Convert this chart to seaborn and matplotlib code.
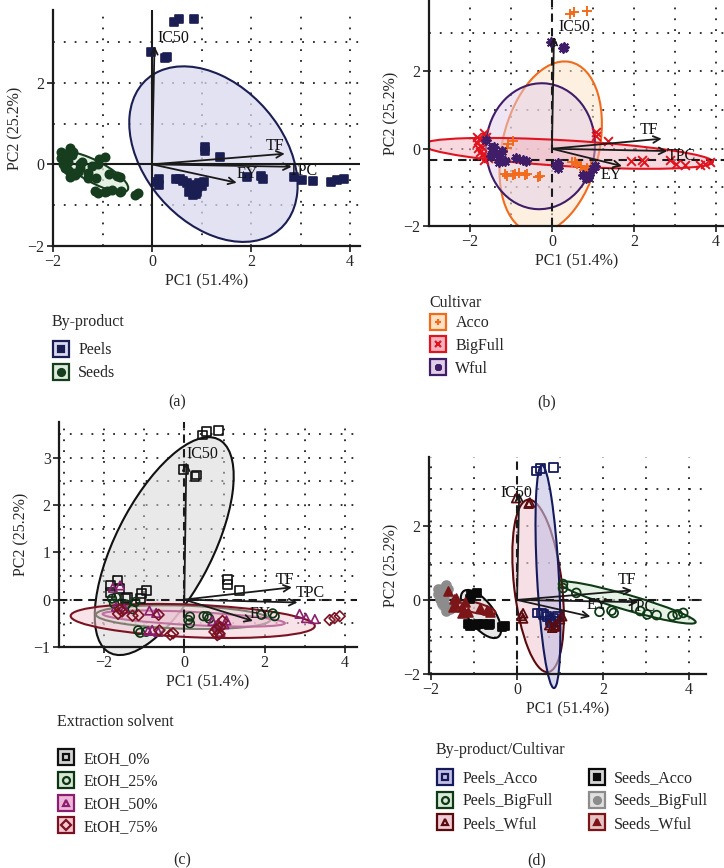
import numpy as np
import pandas as pd
import matplotlib
matplotlib.use('Agg')
import matplotlib.pyplot as plt
from matplotlib.patches import Ellipse
from matplotlib.lines import Line2D
from matplotlib.legend_handler import HandlerTuple
from matplotlib.ticker import MultipleLocator
from matplotlib.colors import to_rgba
import seaborn as sns

# ---------------- data (PCA scores) ----------------
solvents = ['EtOH_0%', 'EtOH_25%', 'EtOH_50%', 'EtOH_75%']
cultivars = ['Acco', 'BigFull', 'Wful']
byproducts = ['Peels', 'Seeds']

# 3 replicates per solvent, solvents in order 0/25/50/75
peels_acco_pc1 = [0.45, 0.55, 0.85, 0.48, 0.57, 0.62, 0.70, 0.78, 0.85, 0.80, 0.90, 0.95]
peels_acco_pc2 = [3.48, 3.55, 3.57, -0.35, -0.35, -0.40, -0.45, -0.55, -0.50, -0.62, -0.58, -0.45]
peels_bigfull_pc1 = [1.07, 1.07, 1.38, 1.92, 2.20, 2.25, 2.87, 3.03, 3.25, 3.62, 3.74, 3.87]
peels_bigfull_pc2 = [0.43, 0.32, 0.19, -0.32, -0.29, -0.35, -0.30, -0.39, -0.41, -0.43, -0.39, -0.35]
peels_wful_pc1 = [-0.02, 0.27, 0.30, 0.14, 0.14, 0.10, 0.90, 1.00, 1.05, 0.82, 0.88, 0.75]
peels_wful_pc2 = [2.75, 2.60, 2.63, -0.36, -0.50, -0.43, -0.68, -0.52, -0.44, -0.75, -0.72, -0.68]
seeds_acco_pc1 = [-1.09, -1.07, -0.94, -1.15, -1.10, -0.95, -0.90, -0.80, -0.65, -0.62, -0.35, -0.28]
seeds_acco_pc2 = [0.02, 0.13, 0.19, -0.65, -0.70, -0.68, -0.66, -0.64, -0.68, -0.65, -0.74, -0.71]
seeds_bigfull_pc1 = [-1.84, -1.66, -1.84, -1.80, -1.75, -1.70, -1.60, -1.78, -1.70, -1.60, -1.55, -1.65]
seeds_bigfull_pc2 = [0.30, 0.40, 0.15, 0.02, -0.08, 0.05, 0.30, 0.25, -0.15, -0.20, -0.25, -0.30]
seeds_wful_pc1 = [-1.61, -1.46, -1.42, -1.45, -1.29, -1.22, -1.49, -0.87, -0.70, -1.29, -1.14, -0.64]
seeds_wful_pc2 = [0.23, 0.02, 0.05, -0.10, -0.20, -0.05, -0.19, -0.23, -0.28, -0.34, -0.33, -0.32]

# variable loadings (arrow tips)
var_names = ['IC50', 'TF', 'TPC', 'EY']
var_pc1 = [0.05, 2.68, 2.82, 1.71]
var_pc2 = [2.90, 0.26, -0.06, -0.45]

# label positions of the variables in each panel
lab_a = [(0.43, 3.10), (2.48, 0.44), (3.06, -0.17), (1.92, -0.23)]
lab_b = [(0.56, 3.14), (2.37, 0.49), (3.15, -0.18), (1.44, -0.68)]
lab_c = [(0.45, 3.08), (2.50, 0.42), (3.13, 0.13), (1.90, -0.30)]
lab_d = [(-0.02, 2.90), (2.56, 0.54), (2.90, -0.19), (1.86, -0.14)]

# concentration ellipses: centre, x half-extent, y half-extent, coupling term
ell_a = {'Peels': (1.24, 0.25, 1.70, 2.15, -1.30), 'Seeds': (-1.15, -0.19, 0.67, 0.49, -0.26)}
ell_b = {'Acco': (-0.03, 0.04, 1.25, 2.22, 0.75), 'Wful': (-0.28, 0.065, 1.33, 1.63, 0.05),
         'BigFull': (0.39, -0.12, 3.54, 0.40, -0.78)}
ell_c = {'EtOH_0%': (-0.50, 1.13, 1.73, 2.30, 2.55), 'EtOH_25%': (-0.03, -0.37, 2.17, 0.25, -0.12),
         'EtOH_50%': (0.235, -0.40, 2.27, 0.17, -0.22), 'EtOH_75%': (0.21, -0.45, 3.04, 0.36, -0.32)}
ell_d = {'Seeds_BigFull': (-1.70, 0.07, 0.17, 0.36, 0.0), 'Seeds_Acco': (-0.84, -0.38, 0.47, 0.65, -0.20),
         'Seeds_Wful': (-1.00, -0.20, 0.50, 0.20, -0.07), 'Peels_BigFull': (2.57, -0.07, 1.59, 0.57, -0.84),
         'Peels_Wful': (0.49, 0.38, 0.60, 2.33, -0.50), 'Peels_Acco': (0.72, 0.63, 0.29, 3.01, -0.42)}

# ---------------- build table ----------------
series = {('Peels', 'Acco'): (peels_acco_pc1, peels_acco_pc2),
          ('Peels', 'BigFull'): (peels_bigfull_pc1, peels_bigfull_pc2),
          ('Peels', 'Wful'): (peels_wful_pc1, peels_wful_pc2),
          ('Seeds', 'Acco'): (seeds_acco_pc1, seeds_acco_pc2),
          ('Seeds', 'BigFull'): (seeds_bigfull_pc1, seeds_bigfull_pc2),
          ('Seeds', 'Wful'): (seeds_wful_pc1, seeds_wful_pc2)}
rows = []
for (bp, cv), (xs, ys) in series.items():
    for i, (x, y) in enumerate(zip(xs, ys)):
        rows.append({'byproduct': bp, 'cultivar': cv, 'solvent': solvents[i // 3],
                     'combo': bp + '_' + cv, 'PC1': x, 'PC2': y})
df = pd.DataFrame(rows)

sns.set_theme(style='ticks')
plt.rcParams['font.family'] = ['Liberation Serif', 'DejaVu Serif']
FS = 11.5
plt.rcParams['font.size'] = FS

fig = plt.figure(figsize=(7.24, 8.68), dpi=100)


def make_axes(left, top, right, bottom):
    return fig.add_axes([left / 724, 1 - bottom / 868, (right - left) / 724, (bottom - top) / 868])


def style_axes(ax, xlim, ylim, yticks, ystep, dashed, hline=0.0):
    ax.set_xlim(*xlim)
    ax.set_ylim(*ylim)
    ax.set_xticks([-2, 0, 2, 4])
    ax.set_yticks(yticks)
    ax.xaxis.set_minor_locator(MultipleLocator(1))
    ax.yaxis.set_minor_locator(MultipleLocator(ystep))
    ax.tick_params(which='minor', length=0)
    ax.tick_params(which='major', length=4, width=1.2, color='k', labelsize=FS, pad=2)
    ax.grid(which='both', color='#222222', lw=1.3, ls=(0, (1, 5)))
    ax.set_axisbelow(True)
    for s in ['top', 'right']:
        ax.spines[s].set_visible(False)
    for s in ['left', 'bottom']:
        ax.spines[s].set_linewidth(1.6)
        ax.spines[s].set_color('k')
    ls = (0, (4, 3)) if dashed else '-'
    ax.axhline(hline, color='k', lw=1.5, ls=ls, zorder=2)
    ax.axvline(0, color='k', lw=1.5, ls=ls, zorder=2)
    ax.set_xlabel('PC1 (51.4%)', fontsize=FS, labelpad=2)
    ax.set_ylabel('PC2 (25.2%)', fontsize=FS, labelpad=3)


def draw_ellipse(ax, params, edge, fill, alpha=0.55, clip=True):
    cx, cy, xh, yh, c = params
    m = np.array([[xh ** 2, c], [c, yh ** 2]])
    vals, vecs = np.linalg.eigh(m)
    ang = np.degrees(np.arctan2(vecs[1, 1], vecs[0, 1]))
    e = Ellipse((cx, cy), 2 * np.sqrt(vals[1]), 2 * np.sqrt(vals[0]), angle=ang,
                fc=to_rgba(fill, alpha), ec=edge, lw=1.5, zorder=1.5, clip_on=clip)
    ax.add_patch(e)


def draw_vars(ax, labels):
    for name, x, y, (lx, ly) in zip(var_names, var_pc1, var_pc2, labels):
        ax.annotate('', xy=(x, y), xytext=(0, 0),
                    arrowprops=dict(arrowstyle='->', color='k', lw=1.3, shrinkA=0, shrinkB=0,
                                    mutation_scale=12), zorder=4)
        ax.text(lx, ly, name, ha='center', va='center', fontsize=FS, color='#111111', zorder=5)


def points(ax, sub, color, marker, s, filled=True, lw=1.2):
    sns.scatterplot(data=sub, x='PC1', y='PC2', ax=ax, marker=marker, s=s, color=color,
                    facecolor=color if filled else 'none', edgecolor=color, linewidth=lw,
                    legend=False, zorder=3)


def add_legend(ax, title, labels, colors, fills, markers, filled, anchor, sep, ncol=1, col_sp=2.0):
    handles = []
    for col, fc, mk, fl in zip(colors, fills, markers, filled):
        box = Line2D([], [], ls='none', marker='s', markersize=12, mfc=fc, mec=col, mew=1.6)
        dot = Line2D([], [], ls='none', marker=mk, markersize=5,
                     mfc=col if fl else 'none', mec=col, mew=1.6)
        handles.append((box, dot))
    leg = ax.legend(handles, labels, handler_map={tuple: HandlerTuple(ndivide=1)},
                    title=title, loc='upper left', bbox_to_anchor=anchor,
                    bbox_transform=fig.transFigure, frameon=False, alignment='left',
                    handlelength=1.1, handletextpad=0.55, labelspacing=0.42, borderpad=0,
                    borderaxespad=0, fontsize=FS, title_fontsize=FS, ncol=ncol,
                    columnspacing=col_sp)
    leg._legend_box.sep = sep
    return leg


# ---------------- (a) by-product ----------------
ax = make_axes(53, 10, 360, 246)
style_axes(ax, (-2, 4.2), (-2, 3.78), [-2, 0, 2], 1, dashed=False)
col_a = {'Peels': '#1b1e52', 'Seeds': '#163d1e'}
fill_a = {'Peels': '#d9d9ef', 'Seeds': '#dcebdc'}
mk_a = {'Peels': 's', 'Seeds': 'o'}
for bp in byproducts:
    draw_ellipse(ax, ell_a[bp], col_a[bp], fill_a[bp], alpha=0.75)
for bp in byproducts:
    points(ax, df[df.byproduct == bp], col_a[bp], mk_a[bp], 40 if bp == 'Peels' else 36)
draw_vars(ax, lab_a)
add_legend(ax, 'By-product', byproducts, [col_a[b] for b in byproducts],
           [fill_a[b] for b in byproducts], ['s', 'o'], [True, True],
           (52 / 724, 1 - 314 / 868), sep=9)

# ---------------- (b) cultivar ----------------
ax = make_axes(429, 0, 724, 226)
style_axes(ax, (-3, 4.2), (-2, 3.85), [-2, 0, 2], 1, dashed=True, hline=-0.3)
col_b = {'Acco': '#f26b1d', 'BigFull': '#e0131f', 'Wful': '#3f1d68'}
fill_b = {'Acco': '#fde3c4', 'BigFull': '#f2b3c0', 'Wful': '#e2cde6'}
mk_b = {'Acco': '+', 'BigFull': 'x', 'Wful': (8, 2, 0)}
size_b = {'Acco': 55, 'BigFull': 40, 'Wful': 40}
for cv in ['Acco', 'Wful', 'BigFull']:
    draw_ellipse(ax, ell_b[cv], col_b[cv], fill_b[cv], alpha=0.5)
for cv in cultivars:
    points(ax, df[df.cultivar == cv], col_b[cv], mk_b[cv], size_b[cv], filled=True, lw=1.4)
draw_vars(ax, lab_b)
add_legend(ax, 'Cultivar', cultivars, [col_b[c] for c in cultivars],
           [fill_b[c] for c in cultivars], ['+', 'x', (8, 2, 0)], [True, True, True],
           (429 / 724, 1 - 295 / 868), sep=3)

# ---------------- (c) extraction solvent ----------------
ax = make_axes(59, 422, 357, 647)
style_axes(ax, (-3.12, 4.3), (-1, 3.75), [-1, 0, 1, 2, 3], 0.5, dashed=True)
col_c = {'EtOH_0%': '#111111', 'EtOH_25%': '#0d3514', 'EtOH_50%': '#8c1d6f', 'EtOH_75%': '#7a1221'}
fill_c = {'EtOH_0%': '#d4d4d4', 'EtOH_25%': '#d4e8d4', 'EtOH_50%': '#efb8da', 'EtOH_75%': '#f3c8d2'}
mk_c = {'EtOH_0%': 's', 'EtOH_25%': 'o', 'EtOH_50%': '^', 'EtOH_75%': 'D'}
for sv in solvents:
    draw_ellipse(ax, ell_c[sv], col_c[sv], fill_c[sv], alpha=0.5, clip=False)
for sv in solvents:
    points(ax, df[df.solvent == sv], col_c[sv], mk_c[sv], 30 if sv == 'EtOH_75%' else 38,
           filled=False, lw=1.2)
draw_vars(ax, lab_c)
add_legend(ax, 'Extraction solvent', solvents, [col_c[s] for s in solvents],
           [fill_c[s] for s in solvents], ['s', 'o', '^', 'D'], [False] * 4,
           (57 / 724, 1 - 714 / 868), sep=15)

# ---------------- (d) by-product / cultivar ----------------
ax = make_axes(429, 457, 706, 674)
style_axes(ax, (-2.05, 4.4), (-2, 3.86), [-2, 0, 2], 1, dashed=True)
combos = ['Peels_Acco', 'Peels_BigFull', 'Peels_Wful', 'Seeds_Acco', 'Seeds_BigFull', 'Seeds_Wful']
col_d = {'Peels_Acco': '#141a5c', 'Peels_BigFull': '#0f3a16', 'Peels_Wful': '#5a0b0e',
         'Seeds_Acco': '#0a0a0a', 'Seeds_BigFull': '#8c8c8c', 'Seeds_Wful': '#7c1518'}
fill_d = {'Peels_Acco': '#c4c0e4', 'Peels_BigFull': '#d8ead8', 'Peels_Wful': '#f0ccd6',
          'Seeds_Acco': '#d6d6d6', 'Seeds_BigFull': '#e0e0e0', 'Seeds_Wful': '#e6c4c4'}
mk_d = {'Peels_Acco': 's', 'Peels_BigFull': 'o', 'Peels_Wful': '^',
        'Seeds_Acco': 's', 'Seeds_BigFull': 'o', 'Seeds_Wful': '^'}
filled_d = {'Peels_Acco': False, 'Peels_BigFull': False, 'Peels_Wful': False,
            'Seeds_Acco': True, 'Seeds_BigFull': True, 'Seeds_Wful': True}
for cb in ell_d:
    edge = '#b0b0b0' if cb == 'Seeds_BigFull' else col_d[cb]
    draw_ellipse(ax, ell_d[cb], edge, fill_d[cb], alpha=0.6, clip=False)
for cb in combos:
    points(ax, df[df.combo == cb], col_d[cb], mk_d[cb], 40, filled=filled_d[cb], lw=1.3)
draw_vars(ax, lab_d)
add_legend(ax, 'By-product/Cultivar', combos, [col_d[c] for c in combos],
           [fill_d[c] for c in combos], [mk_d[c] for c in combos],
           [filled_d[c] for c in combos], (436 / 724, 1 - 742 / 868), sep=9, ncol=2, col_sp=2.2)

# panel captions
for lab, x, y in [('(a)', 177, 402), ('(b)', 547, 402), ('(c)', 182, 860), ('(d)', 537, 860)]:
    fig.text(x / 724, 1 - y / 868, lab, ha='center', va='center', fontsize=FS)

fig.savefig('out.png', dpi=100)
